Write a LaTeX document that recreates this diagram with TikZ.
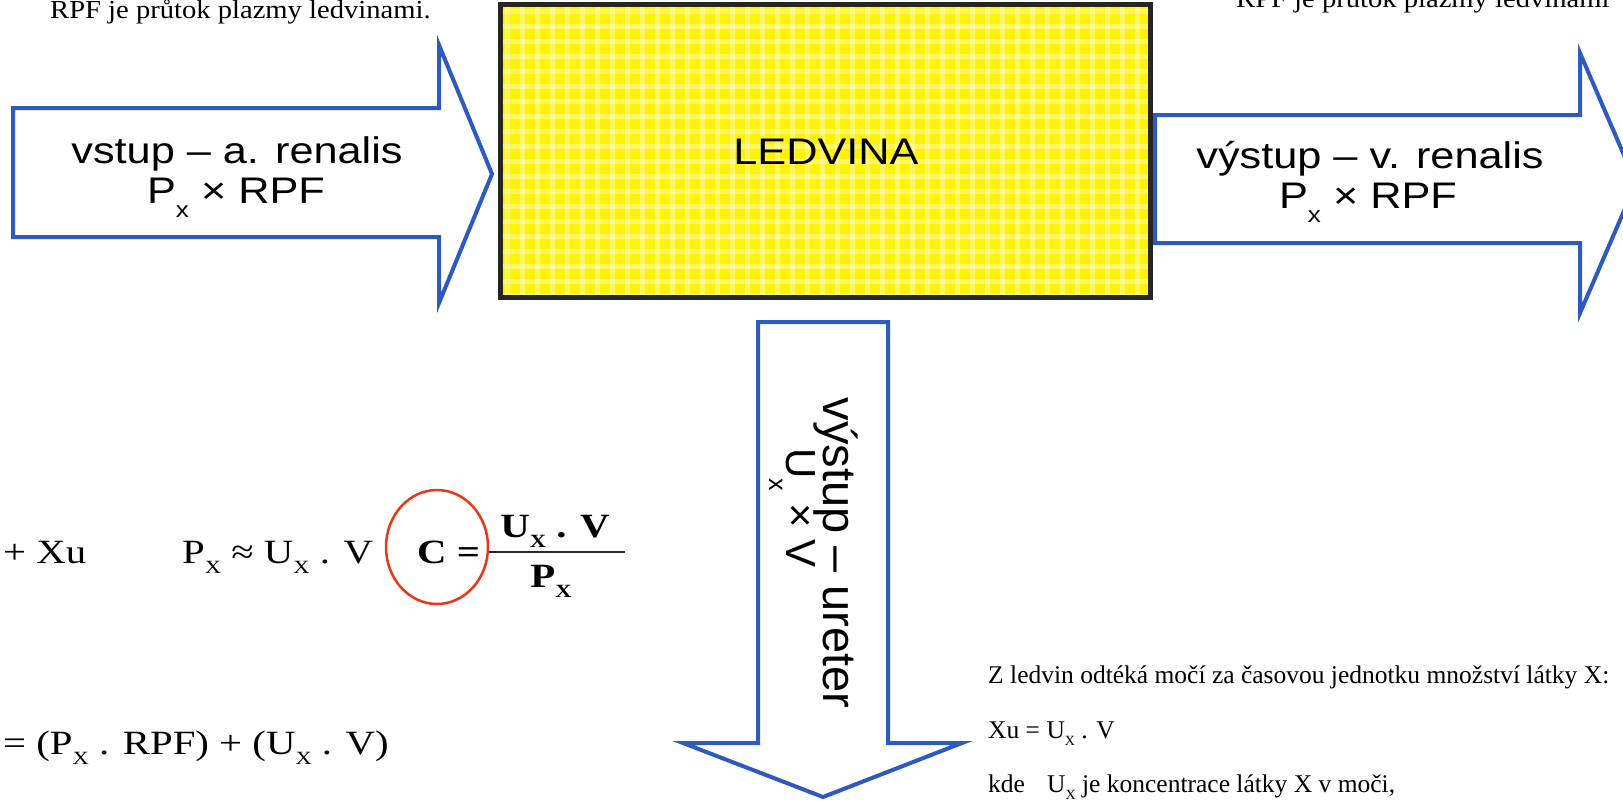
\documentclass[tikz,border=0pt]{standalone}
\usepackage{graphicx}
\usepackage{fontspec}
\setmainfont{Liberation Serif}
\newfontfamily\arialw[FakeStretch=1.17]{Liberation Sans}
\newfontfamily\arialf{Liberation Sans}
\newfontfamily\serifw[FakeStretch=1.2]{Liberation Serif}
\newfontfamily\serifn[FakeStretch=1.1]{Liberation Serif}
\definecolor{arrowblue}{RGB}{45,90,190}
\definecolor{kidneyyellow}{RGB}{255,242,10}
\definecolor{circred}{RGB}{235,55,25}
\newcommand\ssub[1]{\raisebox{-0.4em}{\scalebox{0.6}{#1}}}
\newcommand\rsub[1]{\raisebox{-0.3em}{\scalebox{0.55}{#1}}}
\tikzset{
  blockarrow/.style={draw=arrowblue, line width=4pt, fill=white, line join=miter},
  sanslabel/.style={font=\arialw\fontsize{37}{41}\selectfont, align=center, inner sep=0pt},
  uretlabel/.style={font=\arialf\fontsize{47}{51}\selectfont, inner sep=0pt, rotate=-90, anchor=base},
  serifbig/.style={font=\serifw\fontsize{34}{38}\selectfont, inner sep=0pt, anchor=base west},
  serifbold/.style={font=\serifw\bfseries\fontsize{34}{38}\selectfont, inner sep=0pt},
  serifsmall/.style={font=\fontsize{25.5}{28}\selectfont, inner sep=0pt, anchor=base west},
  serifnote/.style={font=\serifn\fontsize{26}{29}\selectfont, inner sep=0pt, anchor=base west},
}
\begin{document}
\begin{tikzpicture}[x=1pt,y=-1pt]
\useasboundingbox (0,0) rectangle (1623,801);
\clip (0,0) rectangle (1623,801);
\fill[white] (0,0) rectangle (1623,801);

% top notes
\node[serifnote] (noteL) at (50,18) {RPF je průtok plazmy ledvinami.};
\node[serifnote] (noteR) at (1236,7) {RPF je průtok plazmy ledvinami};

% kidney box
\fill[kidneyyellow] (500,4) rectangle (1150,297);
\begin{scope}
\clip (500,4) rectangle (1150,297);
\foreach \gx in {507,522,...,1150} {\draw[white, opacity=0.35, line width=5pt] (\gx,4) -- (\gx,297);}
\foreach \gy in {11,26,...,297} {\draw[white, opacity=0.35, line width=5pt] (500,\gy) -- (1150,\gy);}
\end{scope}
\draw[black!85, line width=5pt] (500,4) rectangle (1150,297);
\node[sanslabel] (ledvina) at (826,152) {LEDVINA};

% input arrow
\draw[blockarrow] (13,108) -- (439,108) -- (439,45) -- (492,174) -- (439,303) -- (439,237) -- (13,237) -- cycle;
\node[sanslabel, anchor=base] (inA) at (237,163) {vstup – a. renalis};
\node[sanslabel, anchor=base] (inB) at (236,203) {P\ssub{x} × RPF};

% output arrow (vein)
\draw[blockarrow] (1155,115) -- (1580,115) -- (1580,53) -- (1636,183) -- (1580,313) -- (1580,243) -- (1155,243) -- cycle;
\node[sanslabel, anchor=base] (outA) at (1370,168) {výstup – v. renalis};
\node[sanslabel, anchor=base] (outB) at (1368,208) {P\ssub{x} × RPF};

% output arrow (ureter)
\draw[blockarrow] (758,322) -- (888,322) -- (888,743) -- (962,743) -- (823,797) -- (683,743) -- (758,743) -- cycle;
\node[uretlabel] (urA) at (823,553) {výstup – ureter};
\node[uretlabel, font=\arialf\fontsize{42}{46}\selectfont] (urB) at (786,508) {U\ssub{x} × V};

% formulas left
\node[serifbig] (f1) at (3,563) {+ Xu};
\node[serifbig] (f2) at (182,563) {P\rsub{X} ≈ U\rsub{X} . V};
\node[serifbold, anchor=base west] (f3) at (417,563) {C =};
\draw[black!85, line width=2.5pt] (488,552) -- (625,552);
\node[serifbold, anchor=base] (num) at (555,537) {U\rsub{X} . V};
\node[serifbold, anchor=base] (den) at (551,587) {P\rsub{X}};
\draw[circred, line width=2.5pt] (437,547) ellipse [x radius=51, y radius=57];
\node[serifbig] (f4) at (3,754) {= (P\rsub{X} . RPF) + (U\rsub{X} . V)};

% bottom right text
\node[serifsmall] (t1) at (988,683) {Z ledvin odtéká močí za časovou jednotku množství látky X:};
\node[serifsmall] (t2) at (988,738) {Xu = U\rsub{X} . V};
\node[serifsmall] (t3) at (988,792) {kde};
\node[serifsmall] (t4) at (1047,792) {U\rsub{X} je koncentrace látky X v moči,};
\end{tikzpicture}
\end{document}
